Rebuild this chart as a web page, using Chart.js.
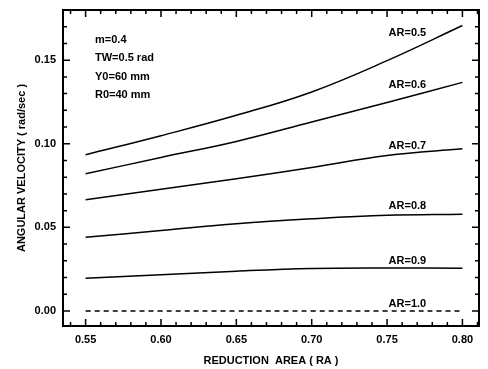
<!DOCTYPE html>
<html>
<head>
<meta charset="utf-8">
<script src="https://cdn.jsdelivr.net/npm/chart.js@4"></script>
<style>
  html, body { margin: 0; padding: 0; background: #fff; }
  .container { width: 488px; height: 369px; }
</style>
</head>
<body>
<div class="container">
  <canvas id="angular"></canvas>
</div>
<script>
// reduction area (x axis)
const ra = [0.55, 0.60, 0.65, 0.70, 0.75, 0.80]

// angular velocity (rad/sec) for each AR
const ar05 = [0.0934, 0.1048, 0.1170, 0.1310, 0.1497, 0.1707]
const ar06 = [0.0820, 0.0918, 0.1014, 0.1130, 0.1247, 0.1367]
const ar07 = [0.0665, 0.0728, 0.0790, 0.0858, 0.0930, 0.0970]
const ar08 = [0.0441, 0.0481, 0.0522, 0.0551, 0.0572, 0.0579]
const ar09 = [0.0196, 0.0216, 0.0238, 0.0254, 0.0257, 0.0255]
const ar10 = [0, 0, 0, 0, 0, 0]

const curveNames = ['AR=0.5', 'AR=0.6', 'AR=0.7', 'AR=0.8', 'AR=0.9', 'AR=1.0']
const curves = [ar05, ar06, ar07, ar08, ar09, ar10]

const xTicks = [0.55, 0.60, 0.65, 0.70, 0.75, 0.80]
const yTicks = [0.00, 0.05, 0.10, 0.15]

const params = ['m=0.4', 'TW=0.5 rad', 'Y0=60 mm', 'R0=40 mm']

const font = "'Liberation Sans', Arial, sans-serif"

// where the AR labels sit (data units)
const labelX = 0.7635
const labelY = [0.1665, 0.1353, 0.0988, 0.0629, 0.0299, 0.0042]

const datasets = curves.map((vals, i) => ({
  label: curveNames[i],
  data: vals.map((v, j) => ({x: ra[j], y: v})),
  borderColor: '#000',
  borderWidth: 1.5,
  borderDash: i === 5 ? [5, 4] : [],
  pointRadius: 0,
  tension: 0.4,
  fill: false
}))

// ticks inside the frame on all four sides, frame and text
const framePlugin = {
  id: 'frame',
  afterDraw(chart) {
    const ctx = chart.ctx
    const a = chart.chartArea
    const xs = chart.scales.x
    const ys = chart.scales.y
    ctx.save()
    ctx.strokeStyle = '#000'
    ctx.lineWidth = 1.5
    ctx.beginPath()
    for (let k = 54; k <= 81; k++) {
      const v = k / 100
      const px = xs.getPixelForValue(v)
      const len = k % 5 === 0 ? 7 : 4
      ctx.moveTo(px, a.bottom); ctx.lineTo(px, a.bottom - len)
      ctx.moveTo(px, a.top); ctx.lineTo(px, a.top + len)
    }
    for (let k = 0; k <= 17; k++) {
      const v = k / 100
      const py = ys.getPixelForValue(v)
      const len = k % 5 === 0 ? 7 : 4
      ctx.moveTo(a.left, py); ctx.lineTo(a.left + len, py)
      ctx.moveTo(a.right, py); ctx.lineTo(a.right - len, py)
    }
    ctx.stroke()
    ctx.lineWidth = 2
    ctx.strokeRect(a.left, a.top, a.right - a.left, a.bottom - a.top)

    ctx.fillStyle = '#000'
    ctx.font = 'bold 11px ' + font
    ctx.textBaseline = 'middle'
    ctx.textAlign = 'left'
    params.forEach((t, i) => {
      ctx.fillText(t, a.left + 32, a.top + 30 + i * 18.3)
    })
    ctx.textAlign = 'center'
    curveNames.forEach((t, i) => {
      ctx.fillText(t, xs.getPixelForValue(labelX), ys.getPixelForValue(labelY[i]))
    })
    ctx.restore()
  }
}

new Chart(document.getElementById('angular'), {
  type: 'line',
  data: { datasets: datasets },
  options: {
    responsive: true,
    maintainAspectRatio: false,
    animation: false,
    layout: { padding: { top: 10, right: 9, left: 0, bottom: 0 } },
    plugins: {
      legend: { display: false },
      tooltip: { enabled: false }
    },
    scales: {
      x: {
        type: 'linear',
        min: 0.535,
        max: 0.811,
        afterBuildTicks: s => { s.ticks = xTicks.map(v => ({value: v})) },
        afterFit: s => {
          s.height = 43
          s.paddingLeft = 0
          s.paddingRight = 0
        },
        grid: { display: false, drawTicks: false },
        border: { display: false },
        ticks: {
          color: '#000',
          font: { family: font, size: 11, weight: 'bold' },
          padding: 7,
          maxRotation: 0,
          autoSkip: false,
          callback: v => v.toFixed(2)
        },
        title: {
          display: true,
          text: 'REDUCTION  AREA ( RA )',
          color: '#000',
          font: { family: font, size: 11, weight: 'bold' },
          padding: { top: 0, bottom: 1 }
        }
      },
      y: {
        type: 'linear',
        min: -0.009,
        max: 0.180,
        afterBuildTicks: s => { s.ticks = yTicks.map(v => ({value: v})) },
        afterFit: s => {
          s.width = 63
          s.paddingTop = 0
          s.paddingBottom = 0
        },
        grid: { display: false, drawTicks: false },
        border: { display: false },
        ticks: {
          color: '#000',
          font: { family: font, size: 11, weight: 'bold' },
          padding: 7,
          autoSkip: false,
          callback: v => v.toFixed(2)
        },
        title: {
          display: true,
          text: 'ANGULAR VELOCITY ( rad/sec )',
          color: '#000',
          font: { family: font, size: 11, weight: 'bold' },
          padding: { top: 15, bottom: 0 }
        }
      }
    }
  },
  plugins: [framePlugin]
})
</script>
</body>
</html>
